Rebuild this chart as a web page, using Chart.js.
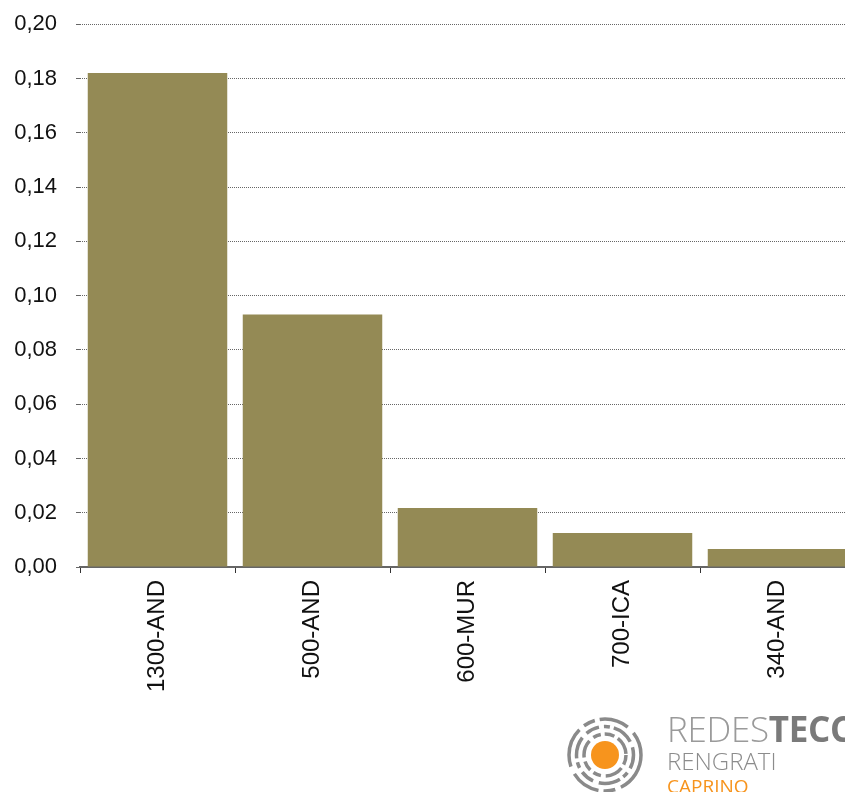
<!DOCTYPE html>
<html>
<head>
<meta charset="utf-8">
<script src="https://cdn.jsdelivr.net/npm/chart.js@4"></script>
<style>
  html, body { margin: 0; padding: 0; background: #fff; overflow: hidden; }
  #wrap { position: absolute; left: 0; top: -8px; width: 860px; height: 800px; }
  #logo-icon { position: absolute; left: 563px; top: 705px; }
  .logo-txt { position: absolute; left: 667px; font-family: "Open Sans", sans-serif; white-space: nowrap; line-height: 1; }
  #l1 { top: 711px; font-size: 35px; color: #9a9a9a; font-weight: 300; letter-spacing: -0.3px; }
  #l1 b { color: #7a7a7a; font-weight: 700; }
  #l2 { top: 749px; font-size: 24px; color: #8c8c8c; font-weight: 300; }
  #l3 { top: 777px; font-size: 19px; color: #f7941d; }
</style>
</head>
<body>
<div id="wrap"><canvas id="chart"></canvas></div>

<svg id="logo-icon" width="90" height="100" viewBox="0 0 90 100">
  <g fill="none" stroke="#8a8a8a" stroke-width="3.5">
    <circle cx="42" cy="50" r="21" stroke-dasharray="10 4 18 5 8 4"/>
    <circle cx="42" cy="50" r="28.5" stroke-dasharray="14 5 6 4 22 6"/>
    <circle cx="42" cy="50" r="36" stroke-dasharray="40 6 12 5 30 8"/>
  </g>
  <circle cx="42" cy="50" r="14" fill="#f7941d"/>
</svg>
<div class="logo-txt" id="l1">REDES<b>TECC</b></div>
<div class="logo-txt" id="l2">RENGRATI</div>
<div class="logo-txt" id="l3">CAPRINO</div>

<script>
const categories = ['1300-AND', '500-AND', '600-MUR', '700-ICA', '340-AND'];
const values = [0.182, 0.093, 0.0217, 0.0125, 0.0066];
const yTicks = { min: 0, max: 0.2, step: 0.02 };

const ctx = document.getElementById('chart').getContext('2d');

new Chart(ctx, {
  type: 'bar',
  data: {
    labels: categories,
    datasets: [{
      data: values,
      backgroundColor: '#948a55',
      barPercentage: 0.9,
      categoryPercentage: 1.0
    }]
  },
  options: {
    responsive: true,
    maintainAspectRatio: false,
    animation: false,
    layout: { padding: { top: 16, right: 5, left: 0, bottom: 0 } },
    plugins: { legend: { display: false }, tooltip: { enabled: false } },
    scales: {
      x: {
        afterFit: s => { s.height = 225; },
        grid: { offset: true, drawOnChartArea: false, tickLength: 6, color: '#333', lineWidth: 1 },
        border: { display: true, color: '#666', width: 2 },
        ticks: {
          minRotation: 90, maxRotation: 90, padding: 7,
          color: '#111', font: { family: 'Liberation Sans, Arial', size: 24 }
        }
      },
      y: {
        min: yTicks.min,
        max: yTicks.max,
        afterFit: s => { s.width = 80; },
        border: { display: false, dash: [1, 1] },
        grid: { color: '#666', lineWidth: 1, tickLength: 4, tickBorderDash: [], drawTicks: true },
        ticks: {
          stepSize: yTicks.step,
          padding: 19,
          color: '#111',
          font: { family: 'Liberation Sans, Arial', size: 22 },
          callback: v => v.toFixed(2).replace('.', ',')
        }
      }
    }
  }
});
</script>
</body>
</html>
